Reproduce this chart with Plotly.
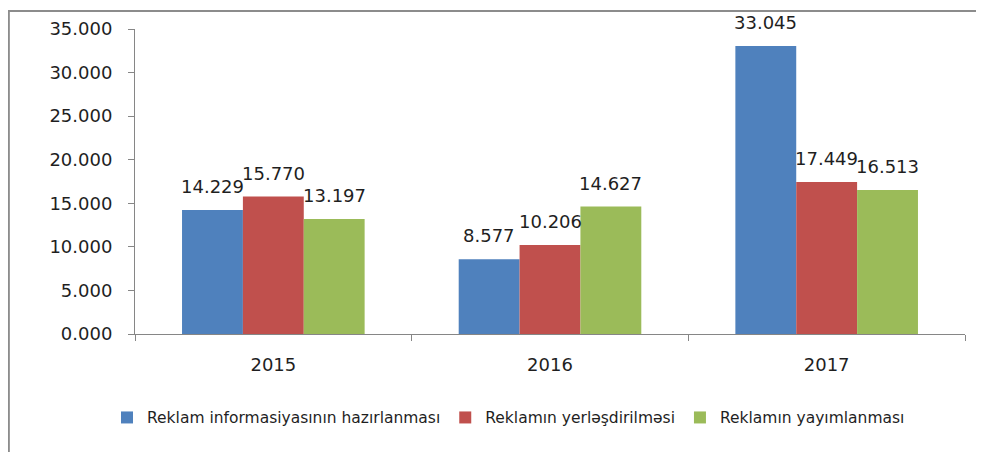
import plotly.graph_objects as go

years = ['2015', '2016', '2017']
series_names = ['Reklam informasiyasının hazırlanması',
                'Reklamın yerləşdirilməsi',
                'Reklamın yayımlanması']
hazirlanmasi = [14.229, 8.577, 33.045]
yerlesdirilmesi = [15.770, 10.206, 17.449]
yayimlanmasi = [13.197, 14.627, 16.513]
colors = ['#4F81BD', '#C0504D', '#9BBB59']

font_family = 'DejaVu Sans, sans-serif'
text_color = '#1f1f1f'

# page body adds 8px on the left and top
W, H = 976, 444
L, R, T, B = 127, 19, 21, 118
BARGAP = 0.34
plot_w = W - L - R
bar_px = plot_w / len(years) * (1 - BARGAP) / len(series_names)

fig = go.Figure()
all_series = [hazirlanmasi, yerlesdirilmesi, yayimlanmasi]
for i, (name, vals, color) in enumerate(zip(series_names, all_series, colors)):
    fig.add_trace(go.Bar(x=years, y=vals, name=name,
                         marker=dict(color=color, line=dict(width=0))))
    # data labels: category index on the x axis, value on the y axis
    for j, v in enumerate(vals):
        fig.add_annotation(x=j, y=v, xref='x', yref='y', text=f'{v:.3f}',
                           showarrow=False, yanchor='bottom',
                           xshift=(i - 1) * bar_px, yshift=11,
                           font=dict(size=18, color=text_color, family=font_family))

fig.update_layout(
    width=W, height=H,
    margin=dict(l=L, r=R, t=T, b=B, autoexpand=False),
    paper_bgcolor='white', plot_bgcolor='white',
    barmode='group', bargap=BARGAP, bargroupgap=0,
    font=dict(family=font_family, size=18, color=text_color),
    showlegend=True,
    legend=dict(orientation='h', x=0.45, xanchor='center', y=-0.275, yanchor='middle',
                font=dict(size=15.5, color=text_color), itemwidth=30,
                traceorder='normal'),
)

fig.update_xaxes(type='category', range=[-0.5, 2.5], showline=True, linecolor='#868686',
                 linewidth=1, ticks='outside', tickson='boundaries', ticklen=6,
                 tickcolor='#868686', ticklabelstandoff=14, showgrid=False,
                 tickfont=dict(size=18, color=text_color))
fig.update_yaxes(range=[0, 35], dtick=5, tickformat='.3f', showgrid=False, zeroline=False,
                 showline=True, linecolor='#868686', linewidth=1,
                 ticks='outside', ticklen=6, tickcolor='#868686', ticklabelstandoff=12,
                 tickfont=dict(size=18, color=text_color))

# outer chart frame
fig.add_shape(type='rect', xref='paper', yref='paper',
              x0=-0.152, x1=1.2, y0=-0.6, y1=1.059,
              line=dict(color='#8c8c8c', width=2), fillcolor='rgba(0,0,0,0)')

fig.write_html('out.html')
